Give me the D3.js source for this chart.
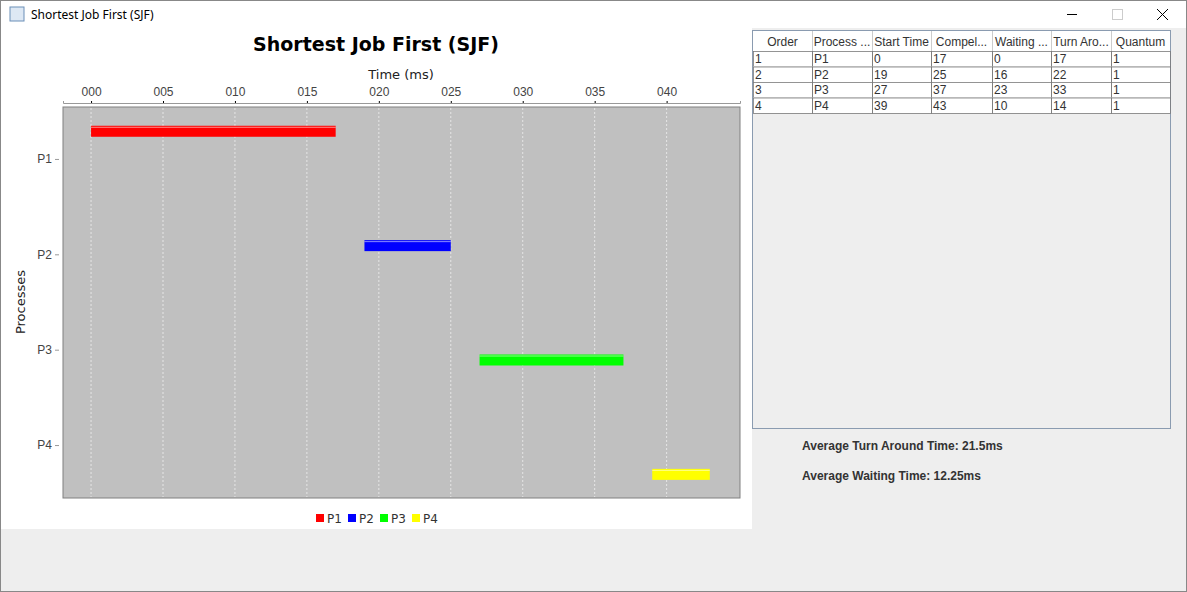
<!DOCTYPE html>
<html><head><meta charset="utf-8">
<script src="https://cdn.jsdelivr.net/npm/d3@7"></script>
<style>
body{margin:0;background:#eeeeee;font-family:"DejaVu Sans",sans-serif;}
svg{display:block;}
</style></head>
<body>
<script>
// chart data
var processes = ["P1", "P2", "P3", "P4"];
var startTimes = [0, 19, 27, 39];
var endTimes = [17, 25, 37, 43];
var colors = ["#ff0000", "#0000ff", "#00ff00", "#ffff00"];
var tickValues = [0, 5, 10, 15, 20, 25, 30, 35, 40];

// table data
var columns = ["Order", "Process ...", "Start Time", "Compel...", "Waiting ...", "Turn Aro...", "Quantum"];
var waiting = [0, 16, 23, 10];
var turnAround = [17, 22, 33, 14];
var quantum = [1, 1, 1, 1];

var W = 1187, H = 592;
var svg = d3.select("body").append("svg").attr("width", W).attr("height", H);

// window frame
svg.append("rect").attr("width", W).attr("height", H).attr("fill", "#eeeeee");
svg.append("rect").attr("width", W).attr("height", 28).attr("fill", "#ffffff");
svg.append("rect").attr("x", 0.5).attr("y", 0.5).attr("width", W - 1).attr("height", H - 1)
    .attr("fill", "none").attr("stroke", "#888");
svg.append("rect").attr("x", 10).attr("y", 7).attr("width", 14).attr("height", 14)
    .attr("fill", "#dde8f4").attr("stroke", "#6b8fb8");
svg.append("text").attr("x", 31).attr("y", 19).style("font-family", "Segoe UI, Noto Sans, sans-serif")
    .style("font-size", "12px").text("Shortest Job First (SJF)");
// window buttons
svg.append("line").attr("x1", 1067).attr("x2", 1077).attr("y1", 14.5).attr("y2", 14.5).attr("stroke", "#000");
svg.append("rect").attr("x", 1112.5).attr("y", 9.5).attr("width", 10).attr("height", 10).attr("fill", "none").attr("stroke", "#ccc");
svg.append("path").attr("d", "M1157,9L1168,20M1168,9L1157,20").attr("stroke", "#000");

// chart panel
svg.append("rect").attr("x", 1).attr("y", 28).attr("width", 751).attr("height", 501).attr("fill", "#ffffff");

var plot = {left: 63, top: 107, right: 740, bottom: 498};

var x = d3.scaleLinear().domain([-1.95, 45.1]).range([plot.left, plot.right]);
var y = d3.scaleBand().domain(processes).range([plot.top, plot.bottom]).paddingOuter(0.05).paddingInner(0);
var inner = d3.scaleBand().domain(processes).range([10, 86]);

svg.append("rect").attr("x", plot.left).attr("y", plot.top)
    .attr("width", plot.right - plot.left).attr("height", plot.bottom - plot.top)
    .attr("fill", "#c0c0c0").attr("stroke", "#808080");

// grid lines
svg.append("g").selectAll("line").data(tickValues).enter().append("line")
    .attr("x1", d => x(d)).attr("x2", d => x(d))
    .attr("y1", plot.top + 1).attr("y2", plot.bottom - 1)
    .attr("stroke", "#ffffff").attr("stroke-width", 0.6).attr("stroke-dasharray", "2,2");

// top axis
var xAxis = d3.axisTop(x).tickValues(tickValues).tickSize(2)
    .tickFormat(d => d3.format("03d")(d));
var gx = svg.append("g").attr("transform", "translate(0," + (plot.top - 4) + ")").call(xAxis);
gx.select(".domain").attr("stroke", "#999");
gx.selectAll("text").style("font-size", "12px").style("fill", "#444").attr("dy", "-2");

// left axis
var yAxis = d3.axisLeft(y).tickSize(4);
var gy = svg.append("g").attr("transform", "translate(" + (plot.left - 4) + ",0)").call(yAxis);
gy.select(".domain").remove();
gy.selectAll("text").style("font-size", "12px").style("fill", "#444");
gy.selectAll("line").attr("stroke", "#999");

// bars
var bars = svg.append("g").selectAll("g").data(processes).enter().append("g");
bars.append("rect")
    .attr("x", (d, i) => x(startTimes[i]))
    .attr("y", d => y(d) + inner(d) + (inner.bandwidth() - 11) / 2)
    .attr("width", (d, i) => x(endTimes[i]) - x(startTimes[i]))
    .attr("height", 11)
    .attr("fill", (d, i) => colors[i]);
bars.append("rect")
    .attr("x", (d, i) => x(startTimes[i]))
    .attr("y", d => y(d) + inner(d) + (inner.bandwidth() - 11) / 2 + 1)
    .attr("width", (d, i) => x(endTimes[i]) - x(startTimes[i]))
    .attr("height", 1)
    .attr("fill", "#ffffff").attr("opacity", 0.55);

// titles
svg.append("text").attr("x", 376).attr("y", 51).attr("text-anchor", "middle")
    .style("font-size", "19px").style("font-weight", "bold").text("Shortest Job First (SJF)");
svg.append("text").attr("x", 401).attr("y", 79).attr("text-anchor", "middle")
    .style("font-size", "13px").style("fill", "#222").text("Time (ms)");
svg.append("text").attr("transform", "translate(25,302) rotate(-90)").attr("text-anchor", "middle")
    .style("font-size", "13px").style("fill", "#222").text("Processes");

// legend
var leg = svg.append("g").selectAll("g").data(processes).enter().append("g")
    .attr("transform", (d, i) => "translate(" + (316 + i * 32) + ",514)");
leg.append("rect").attr("width", 8).attr("height", 8).attr("fill", (d, i) => colors[i]);
leg.append("text").attr("x", 11).attr("y", 8.5).style("font-size", "12px").style("fill", "#333").text(d => d);

// table
var colX = [753, 812, 872, 931, 992, 1051, 1111, 1170];
var tbl = svg.append("g").style("font-family", "Arial, Liberation Sans, sans-serif").style("font-size", "12px");
tbl.append("rect").attr("x", 752.5).attr("y", 30.5).attr("width", 418).attr("height", 398)
    .attr("fill", "#eeeeee").attr("stroke", "#8a9bb0");
tbl.append("rect").attr("x", 753).attr("y", 31).attr("width", 417).attr("height", 20).attr("fill", "#ffffff");
columns.forEach(function(c, j) {
    tbl.append("text").attr("x", (colX[j] + colX[j + 1]) / 2).attr("y", 46).attr("text-anchor", "middle")
        .style("fill", "#333").text(c);
    if (j > 0) tbl.append("line").attr("x1", colX[j] + 0.5).attr("x2", colX[j] + 0.5)
        .attr("y1", 31).attr("y2", 51).attr("stroke", "#ccc");
});
var rows = processes.map((p, i) => [i + 1, p, startTimes[i], endTimes[i], waiting[i], turnAround[i], quantum[i]]);
rows.forEach(function(r, i) {
    var ry = 51 + i * 15.5;
    tbl.append("rect").attr("x", 753).attr("y", ry).attr("width", 417).attr("height", 15.5).attr("fill", "#fff");
    r.forEach(function(v, j) {
        tbl.append("rect").attr("x", colX[j] + 0.5).attr("y", ry + 0.5)
            .attr("width", colX[j + 1] - colX[j]).attr("height", 15.5)
            .attr("fill", "none").attr("stroke", "#7a7a7a").attr("stroke-width", 0.8);
        tbl.append("text").attr("x", colX[j] + 2).attr("y", ry + 12).style("fill", "#333").text(v);
    });
});

svg.append("text").attr("x", 802).attr("y", 450).style("font-family", "Arial, Liberation Sans, sans-serif")
    .style("font-size", "12px").style("font-weight", "bold").style("fill", "#333")
    .text("Average Turn Around Time: 21.5ms");
svg.append("text").attr("x", 802).attr("y", 480).style("font-family", "Arial, Liberation Sans, sans-serif")
    .style("font-size", "12px").style("font-weight", "bold").style("fill", "#333")
    .text("Average Waiting Time: 12.25ms");
</script>
</body></html>
